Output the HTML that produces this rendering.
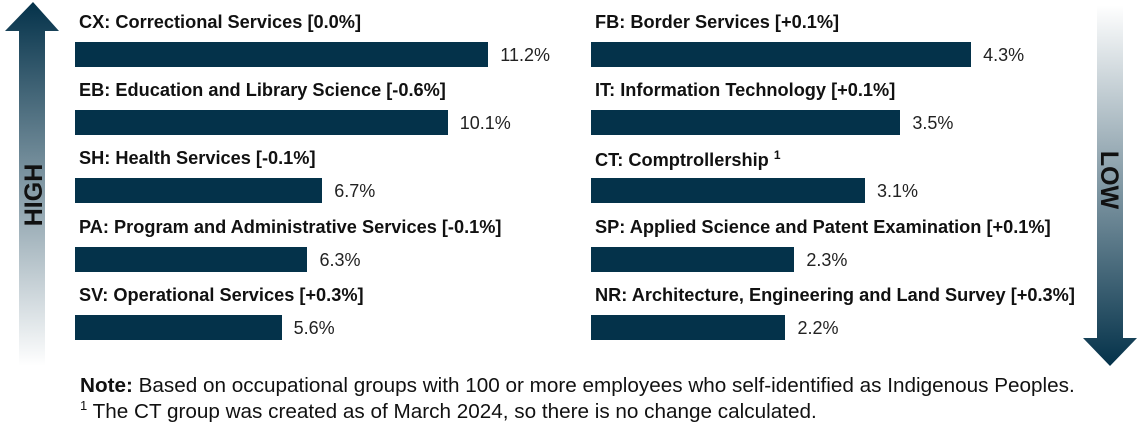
<!DOCTYPE html>
<html><head><meta charset="utf-8"><style>
body{margin:0;width:1140px;height:428px;background:#fff;font-family:"Liberation Sans",sans-serif;overflow:hidden;position:relative}
.lbl{position:absolute;font-weight:bold;font-size:18.2px;color:#111;white-space:nowrap}
.bar{position:absolute;background:#04324a;height:25px}
.val{position:absolute;font-size:18px;color:#222;white-space:nowrap}
.note{position:absolute;left:80px;font-size:20.7px;color:#111;white-space:nowrap}
</style></head><body>
<svg width="1140" height="428" style="position:absolute;left:0;top:0">
<defs>
<linearGradient id="gu" x1="0" y1="0" x2="0" y2="1"><stop offset="0" stop-color="#04324a"/><stop offset="1" stop-color="#04324a" stop-opacity="0"/></linearGradient>
<linearGradient id="gd" x1="0" y1="0" x2="0" y2="1"><stop offset="0" stop-color="#04324a" stop-opacity="0"/><stop offset="1" stop-color="#04324a"/></linearGradient>
</defs>
<polygon points="33,2 59,31 45,31 45,366 19,366 19,31 5,31" fill="url(#gu)"/>
<text transform="translate(42,195) rotate(-90)" text-anchor="middle" font-family="Liberation Sans" font-weight="bold" font-size="25" fill="#111">HIGH</text>
<polygon points="1097,5 1123,5 1123,338 1137,338 1110,366 1083,338 1097,338" fill="url(#gd)"/>
<text transform="translate(1101,180) rotate(90)" text-anchor="middle" font-family="Liberation Sans" font-weight="bold" font-size="25" fill="#111">LOW</text>
</svg>
<div id="chart"></div>
<div class="note" style="top:374px"><b>Note:</b> Based on occupational groups with 100 or more employees who self-identified as Indigenous Peoples.</div>
<div class="note" style="top:398px"><sup style="font-size:13px">1</sup> The CT group was created as of March 2024, so there is no change calculated.</div>
<script>
const leftLabels=["CX: Correctional Services [0.0%]","EB: Education and Library Science [-0.6%]","SH: Health Services [-0.1%]","PA: Program and Administrative Services [-0.1%]","SV: Operational Services [+0.3%]"];
const leftValues=[11.2,10.1,6.7,6.3,5.6];
const rightLabels=["FB: Border Services [+0.1%]","IT: Information Technology [+0.1%]","CT: Comptrollership <sup style=\"font-size:12px\">1</sup>","SP: Applied Science and Patent Examination [+0.1%]","NR: Architecture, Engineering and Land Survey [+0.3%]"];
const rightValues=[4.3,3.5,3.1,2.3,2.2];
const c=document.getElementById('chart');
function draw(labels,values,x0,scale,side){
 labels.forEach((l,i)=>{
  const top=12+i*68.2;
  const lb=document.createElement('div');lb.className='lbl';
  
  
  lb.style.left=(x0+4)+'px';lb.style.top=top+'px';lb.innerHTML=l;c.appendChild(lb);
  const w=values[i]*scale;
  const b=document.createElement('div');b.className='bar';
  
  
  b.style.left=x0+'px';b.style.top=(top+30)+'px';b.style.width=w+'px';c.appendChild(b);
  const v=document.createElement('div');v.className='val';
  
  
  v.style.left=(x0+w+12)+'px';v.style.top=(top+33)+'px';v.textContent=values[i].toFixed(1)+'%';c.appendChild(v);
 });
}
draw(leftLabels,leftValues,75,36.9,'left');
draw(rightLabels,rightValues,591,88.4,'right');
</script>
</body></html>
